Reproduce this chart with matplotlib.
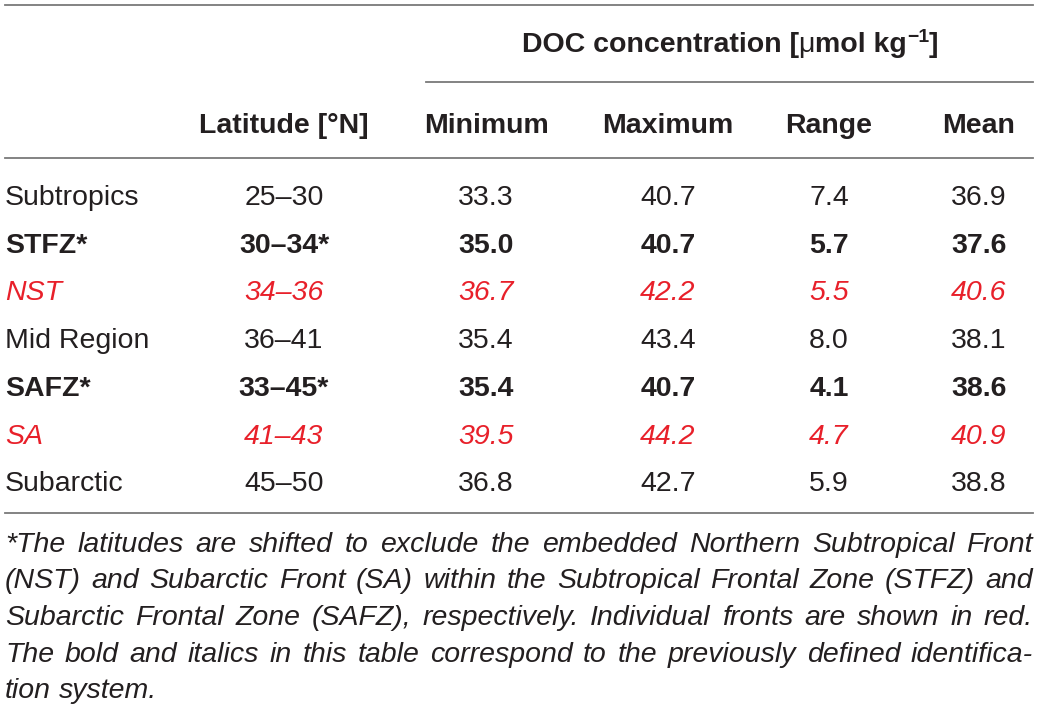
import matplotlib
matplotlib.use("Agg")
import matplotlib.pyplot as plt

# table content
regions = ["Subtropics", "STFZ*", "NST", "Mid Region", "SAFZ*", "SA", "Subarctic"]
latitudes = ["25–30", "30–34*", "34–36", "36–41", "33–45*", "41–43", "45–50"]
minimum = ["33.3", "35.0", "36.7", "35.4", "35.4", "39.5", "36.8"]
maximum = ["40.7", "40.7", "42.2", "43.4", "40.7", "44.2", "42.7"]
ranges = ["7.4", "5.7", "5.5", "8.0", "4.1", "4.7", "5.9"]
means = ["36.9", "37.6", "40.6", "38.1", "38.6", "40.9", "38.8"]
row_styles = ["plain", "bold", "front", "plain", "bold", "front", "plain"]

col_headers = ["Latitude [°N]", "Minimum", "Maximum", "Range", "Mean"]
footnote_lines = [
    "*The latitudes are shifted to exclude the embedded Northern Subtropical Front",
    "(NST) and Subarctic Front (SA) within the Subtropical Frontal Zone (STFZ) and",
    "Subarctic Frontal Zone (SAFZ), respectively. Individual fronts are shown in red.",
    "The bold and italics in this table correspond to the previously defined identifica-",
    "tion system.",
]

FONT = "Liberation Sans"
FS = 20.5
TXT = "#231f20"
RED = "#e8202a"
RULE = "#7a7a7a"

W, H = 1040, 711
fig = plt.figure(figsize=(W / 100, H / 100), dpi=100)
ax = fig.add_axes([0, 0, 1, 1])
ax.set_xlim(0, W)
ax.set_ylim(H, 0)
ax.axis("off")
renderer = fig.canvas.get_renderer()

left, right = 5, 1033
col_x = [284, 486, 668, 829, 979]

# rules
ax.plot([left, right], [5, 5], color=RULE, lw=1.3)
ax.plot([426, right], [82, 82], color=RULE, lw=1.3)
ax.plot([left, right], [158, 158], color=RULE, lw=1.3)
ax.plot([left, right], [513, 513], color=RULE, lw=1.3)


def width_of(s, **kw):
    t = ax.text(0, 0, s, fontfamily=FONT, **kw)
    w = t.get_window_extent(renderer).width
    t.remove()
    return w


# spanner header made of pieces so mu stays upright and light
pieces = [("DOC concentration [", "bold", FS, 0),
          ("μ", "normal", FS, 0),
          ("mol kg", "bold", FS, 0),
          ("−1", "bold", FS * 0.68, -10),
          ("]", "bold", FS, 0)]
widths = [width_of(p[0], fontsize=p[2], fontweight=p[1]) for p in pieces]
x = 730 - sum(widths) / 2
for (s, wt, fs, dy), w in zip(pieces, widths):
    ax.text(x, 52 + dy, s, fontfamily=FONT, fontsize=fs, fontweight=wt,
            color=TXT, va="baseline", ha="left")
    x += w

for hx, h in zip(col_x, col_headers):
    ax.text(hx, 133, h, fontfamily=FONT, fontsize=FS, fontweight="bold",
            color=TXT, va="baseline", ha="center")

row_y0, row_step = 205, 47.7
for i, style in enumerate(row_styles):
    y = row_y0 + i * row_step
    kw = dict(fontfamily=FONT, fontsize=FS, va="baseline", color=TXT)
    if style == "bold":
        kw["fontweight"] = "bold"
    elif style == "front":
        kw["fontstyle"] = "italic"
        kw["color"] = RED
    ax.text(left, y, regions[i], ha="left", **kw)
    vals = [latitudes[i], minimum[i], maximum[i], ranges[i], means[i]]
    for cx, v in zip(col_x, vals):
        ax.text(cx, y, v, ha="center", **kw)

# justified italic footnote
fn_y0, fn_step = 552, 36.5
for j, line in enumerate(footnote_lines):
    y = fn_y0 + j * fn_step
    words = line.split(" ")
    ws = [width_of(wd, fontsize=FS, fontstyle="italic") for wd in words]
    if j < len(footnote_lines) - 1:
        gap = (right - left - sum(ws)) / (len(words) - 1)
    else:
        gap = width_of("a b", fontsize=FS, fontstyle="italic") - \
            width_of("ab", fontsize=FS, fontstyle="italic")
    x = left
    for wd, w in zip(words, ws):
        ax.text(x, y, wd, fontfamily=FONT, fontsize=FS, fontstyle="italic",
                color=TXT, va="baseline", ha="left")
        x += w + gap

fig.savefig("out.png", dpi=100, facecolor="white")
